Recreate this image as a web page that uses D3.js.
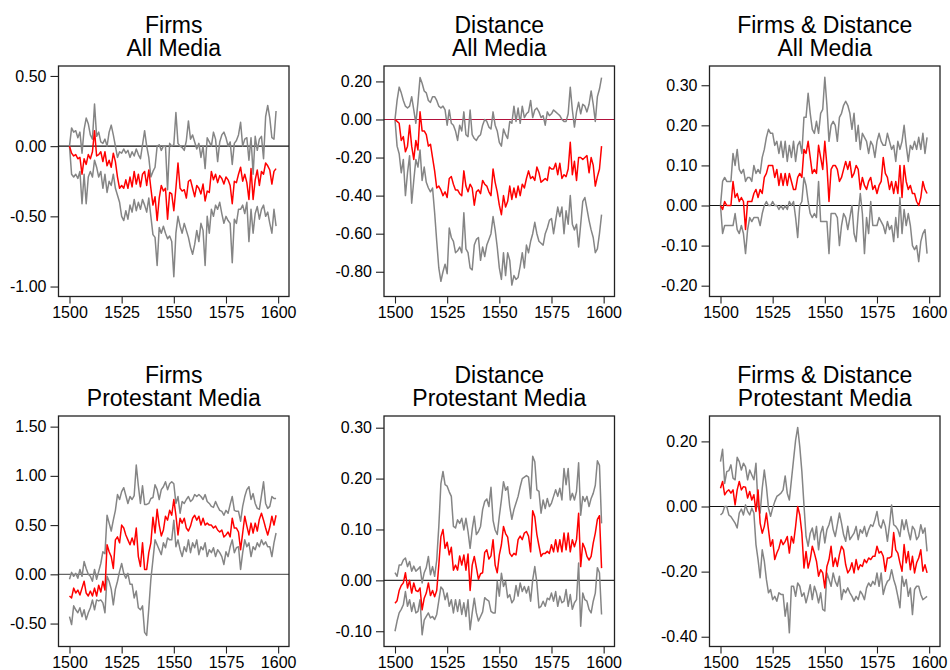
<!DOCTYPE html>
<html lang="en">
<head>
    <meta charset="UTF-8">
    <title>Firms and Distance effects</title>
    <style>
        * {
            margin: 0;
            border: 0;
            box-sizing: border-box;
        }
        body {
            background: #fff;
        }
        #chart {
            width: 950px;
            height: 670px;
        }
        text {
            font-family: "Liberation Sans", Arial, Helvetica, sans-serif;
        }
    </style>
    <script src="https://unpkg.com/d3@7.6.1/dist/d3.min.js"></script>
    <script>
        // years 1500..1599, one value per year
        const xTicks = ["1500", "1525", "1550", "1575", "1600"];

        const yTicksFirmsAll = ["0.50", "0.00", "-0.50", "-1.00"];
        const yTicksDistAll = ["0.20", "0.00", "-0.20", "-0.40", "-0.60", "-0.80"];
        const yTicksBothAll = ["0.30", "0.20", "0.10", "0.00", "-0.10", "-0.20"];
        const yTicksFirmsProt = ["1.50", "1.00", "0.50", "0.00", "-0.50"];
        const yTicksDistProt = ["0.30", "0.20", "0.10", "0.00", "-0.10"];
        const yTicksBothProt = ["0.20", "0.00", "-0.20", "-0.40"];

        // Firms, All Media
        const firmsAllEst = [
            0.00,-0.05,-0.07,-0.06,-0.09,-0.08,-0.20,-0.09,-0.13,-0.06,
            -0.09,-0.04,0.11,-0.07,-0.06,-0.04,-0.11,-0.04,-0.14,-0.10,
            -0.15,-0.05,-0.11,-0.22,-0.30,-0.28,-0.30,-0.24,-0.30,-0.22,
            -0.29,-0.18,-0.27,-0.20,-0.29,-0.20,-0.18,-0.28,-0.17,-0.30,
            -0.42,-0.36,-0.53,-0.37,-0.28,-0.32,-0.30,-0.52,-0.33,-0.34,
            -0.46,-0.30,-0.12,-0.30,-0.32,-0.31,-0.37,-0.25,-0.24,-0.30,
            -0.36,-0.28,-0.30,-0.34,-0.27,-0.39,-0.32,-0.33,-0.18,-0.24,
            -0.20,-0.26,-0.21,-0.23,-0.27,-0.22,-0.24,-0.28,-0.41,-0.25,
            -0.26,-0.20,-0.15,-0.25,-0.20,-0.26,-0.38,-0.16,-0.38,-0.24,
            -0.17,-0.28,-0.18,-0.20,-0.12,-0.14,-0.17,-0.27,-0.18,-0.16
        ];
        const firmsAllHi = [
            0.00,0.13,0.10,0.11,0.06,0.10,-0.05,0.12,0.20,0.16,
            0.08,0.05,0.30,0.07,0.10,0.03,0.02,0.05,0.00,0.10,
            0.15,0.08,0.00,-0.08,-0.04,-0.05,-0.02,-0.05,-0.03,-0.08,
            -0.04,-0.07,-0.02,-0.06,-0.09,0.01,0.11,0.00,-0.08,-0.22,
            -0.18,-0.15,0.00,0.01,-0.03,0.00,0.00,-0.31,0.02,0.00,
            0.01,0.24,0.02,0.00,-0.01,-0.03,0.04,0.18,0.05,0.08,
            0.03,-0.02,0.02,-0.08,0.00,-0.16,0.06,0.03,0.00,0.10,
            0.05,-0.11,0.03,0.08,0.10,0.06,0.00,0.03,-0.13,0.02,
            0.04,0.08,0.17,0.00,0.05,0.06,-0.10,0.06,-0.20,0.07,
            -0.03,0.05,0.07,-0.09,0.21,0.29,0.20,0.06,0.05,0.25
        ];
        const firmsAllLo = [
            0.00,-0.20,-0.22,-0.20,-0.23,-0.18,-0.41,-0.20,-0.41,-0.22,
            -0.18,-0.22,-0.10,-0.15,-0.22,-0.18,-0.30,-0.20,-0.33,-0.25,
            -0.28,-0.20,-0.30,-0.35,-0.40,-0.50,-0.53,-0.46,-0.52,-0.42,
            -0.47,-0.38,-0.46,-0.40,-0.45,-0.38,-0.42,-0.47,-0.37,-0.50,
            -0.63,-0.65,-0.85,-0.58,-0.62,-0.57,-0.62,-0.66,-0.64,-0.68,
            -0.93,-0.62,-0.50,-0.57,-0.62,-0.55,-0.60,-0.65,-0.72,-0.77,
            -0.70,-0.60,-0.68,-0.55,-0.60,-0.85,-0.50,-0.62,-0.45,-0.50,
            -0.42,-0.45,-0.40,-0.48,-0.55,-0.50,-0.53,-0.55,-0.83,-0.52,
            -0.55,-0.45,-0.45,-0.42,-0.48,-0.40,-0.68,-0.45,-0.62,-0.48,
            -0.43,-0.52,-0.45,-0.42,-0.50,-0.47,-0.55,-0.62,-0.45,-0.57
        ];

        // Distance, All Media
        const distAllEst = [
            0.00,-0.01,-0.02,-0.11,-0.09,-0.17,-0.14,-0.03,-0.14,-0.21,
            -0.11,-0.16,0.04,-0.06,-0.06,-0.08,-0.14,-0.13,-0.20,-0.27,
            -0.36,-0.35,-0.37,-0.40,-0.38,-0.41,-0.31,-0.30,-0.34,-0.37,
            -0.37,-0.39,-0.40,-0.27,-0.35,-0.38,-0.34,-0.36,-0.45,-0.38,
            -0.37,-0.39,-0.32,-0.34,-0.35,-0.38,-0.40,-0.26,-0.33,-0.38,
            -0.45,-0.50,-0.40,-0.46,-0.43,-0.35,-0.42,-0.36,-0.41,-0.35,
            -0.40,-0.34,-0.36,-0.31,-0.27,-0.31,-0.30,-0.32,-0.25,-0.28,
            -0.33,-0.32,-0.31,-0.32,-0.25,-0.26,-0.26,-0.23,-0.29,-0.23,
            -0.31,-0.29,-0.30,-0.26,-0.12,-0.29,-0.22,-0.32,-0.20,-0.20,
            -0.21,-0.20,-0.19,-0.28,-0.20,-0.24,-0.35,-0.30,-0.26,-0.14
        ];
        const distAllHi = [
            0.00,0.10,0.17,0.14,0.10,0.07,0.06,0.07,0.12,0.05,
            -0.02,0.09,0.22,0.19,0.15,0.14,0.10,0.09,0.12,0.12,
            0.10,0.07,0.06,0.07,0.05,-0.03,0.05,-0.02,-0.03,-0.06,
            -0.11,-0.03,-0.06,0.04,-0.08,-0.09,0.05,-0.08,-0.10,-0.11,
            -0.09,-0.08,-0.03,0.00,-0.01,-0.04,-0.05,0.04,-0.03,-0.06,
            -0.12,-0.14,-0.05,-0.08,-0.10,-0.01,-0.02,0.07,-0.01,0.06,
            -0.02,0.07,0.01,0.03,0.04,0.10,0.01,0.05,0.06,0.04,
            0.01,0.02,-0.03,0.04,0.02,0.03,0.05,0.04,0.03,0.02,
            0.00,-0.01,-0.01,0.03,0.17,0.05,-0.04,0.04,0.09,0.03,
            0.08,0.07,0.04,0.08,0.15,0.08,-0.01,0.12,0.16,0.22
        ];
        const distAllLo = [
            0.00,-0.14,-0.18,-0.28,-0.21,-0.40,-0.28,-0.19,-0.44,-0.32,
            -0.21,-0.25,-0.16,-0.32,-0.25,-0.33,-0.36,-0.38,-0.36,-0.49,
            -0.64,-0.78,-0.85,-0.80,-0.76,-0.81,-0.57,-0.62,-0.64,-0.70,
            -0.69,-0.67,-0.70,-0.49,-0.68,-0.70,-0.78,-0.79,-0.66,-0.63,
            -0.62,-0.74,-0.67,-0.72,-0.66,-0.63,-0.60,-0.51,-0.58,-0.67,
            -0.78,-0.84,-0.70,-0.82,-0.70,-0.74,-0.87,-0.82,-0.84,-0.83,
            -0.77,-0.70,-0.78,-0.66,-0.70,-0.64,-0.60,-0.54,-0.60,-0.64,
            -0.65,-0.66,-0.60,-0.57,-0.53,-0.52,-0.60,-0.53,-0.46,-0.51,
            -0.46,-0.60,-0.48,-0.55,-0.40,-0.55,-0.58,-0.55,-0.67,-0.55,
            -0.43,-0.41,-0.47,-0.53,-0.58,-0.62,-0.70,-0.68,-0.60,-0.50
        ];

        // Firms & Distance, All Media
        const bothAllEst = [
            0.00,-0.01,0.01,0.00,0.00,0.00,0.06,0.02,0.03,0.01,
            0.02,0.01,-0.06,0.01,0.01,0.01,0.03,0.04,0.02,0.04,
            0.03,0.07,0.08,0.10,0.10,0.10,0.07,0.09,0.05,0.08,
            0.05,0.08,0.05,0.08,0.06,0.04,0.04,0.07,0.08,0.07,
            0.14,0.13,0.16,0.12,0.08,0.09,0.08,0.15,0.12,0.09,
            0.16,0.10,0.01,0.09,0.10,0.10,0.09,0.06,0.07,0.09,
            0.11,0.09,0.11,0.07,0.08,0.10,0.09,0.04,0.07,0.05,
            0.04,0.06,0.07,0.04,0.05,0.03,0.05,0.06,0.12,0.08,
            0.07,0.04,0.06,0.03,0.06,0.03,0.10,0.02,0.10,0.06,
            0.04,0.05,0.03,0.03,0.01,0.00,0.02,0.06,0.04,0.03
        ];
        const bothAllHi = [
            0.00,0.06,0.07,0.06,0.06,0.06,0.13,0.10,0.14,0.09,
            0.08,0.09,0.06,0.07,0.07,0.06,0.10,0.08,0.09,0.08,
            0.12,0.14,0.17,0.19,0.18,0.18,0.15,0.16,0.13,0.16,
            0.12,0.16,0.11,0.15,0.12,0.16,0.11,0.15,0.16,0.13,
            0.22,0.22,0.28,0.23,0.19,0.18,0.21,0.18,0.23,0.24,
            0.32,0.25,0.16,0.20,0.21,0.20,0.16,0.22,0.23,0.25,
            0.26,0.25,0.23,0.19,0.23,0.16,0.20,0.14,0.18,0.17,
            0.16,0.13,0.16,0.15,0.12,0.16,0.18,0.16,0.15,0.15,
            0.18,0.16,0.14,0.15,0.11,0.16,0.14,0.16,0.20,0.15,
            0.11,0.15,0.14,0.16,0.14,0.17,0.14,0.18,0.13,0.17
        ];
        const bothAllLo = [
            0.00,-0.07,-0.05,-0.05,-0.05,-0.05,-0.05,-0.02,-0.06,-0.07,
            -0.05,-0.07,-0.12,-0.06,-0.03,-0.04,-0.03,-0.03,-0.03,-0.05,
            -0.02,0.00,0.01,0.00,0.00,0.01,0.00,0.00,-0.01,0.00,
            -0.01,0.00,-0.01,0.01,0.00,0.01,-0.03,-0.08,0.00,0.01,
            0.07,0.05,0.01,-0.02,-0.03,-0.02,-0.03,0.06,-0.04,-0.04,
            -0.04,-0.04,-0.12,-0.02,-0.02,-0.02,-0.03,-0.10,-0.05,-0.02,
            -0.03,-0.06,-0.03,0.00,-0.07,-0.09,-0.02,0.03,-0.02,-0.12,
            -0.03,-0.07,0.01,-0.05,-0.05,-0.05,-0.03,-0.04,-0.05,-0.07,
            -0.04,-0.06,-0.05,-0.09,-0.03,-0.08,0.02,-0.07,-0.01,-0.05,
            -0.02,-0.05,-0.10,-0.11,-0.10,-0.14,-0.09,-0.07,-0.06,-0.12
        ];

        // Firms, Protestant Media
        const firmsProtEst = [
            -0.22,-0.24,-0.14,-0.19,-0.16,-0.21,-0.14,-0.07,-0.19,-0.22,
            -0.17,-0.22,-0.14,-0.22,-0.11,-0.18,-0.07,-0.16,0.30,0.23,
            0.18,0.06,0.35,0.38,0.32,0.50,0.47,0.40,0.35,0.30,
            0.37,0.30,0.47,0.18,0.08,0.32,0.05,0.05,0.22,0.32,
            0.58,0.42,0.66,0.50,0.39,0.45,0.59,0.55,0.65,0.60,
            0.76,0.60,0.40,0.57,0.52,0.57,0.47,0.44,0.49,0.57,
            0.60,0.55,0.59,0.50,0.57,0.50,0.52,0.50,0.50,0.47,
            0.49,0.45,0.43,0.45,0.38,0.40,0.43,0.38,0.57,0.47,
            0.47,0.43,0.25,0.42,0.59,0.49,0.40,0.52,0.42,0.52,
            0.44,0.56,0.62,0.55,0.47,0.40,0.48,0.59,0.50,0.60
        ];
        const firmsProtHi = [
            -0.05,0.02,-0.02,0.01,-0.04,0.05,-0.02,0.13,0.06,0.00,
            -0.02,-0.07,0.05,-0.05,0.03,0.11,0.23,0.21,0.60,0.52,
            0.44,0.55,0.65,0.81,0.76,0.84,0.88,0.80,0.72,0.79,
            0.76,0.80,1.11,0.90,0.72,0.90,0.71,0.71,0.72,0.77,
            0.78,0.91,0.86,0.76,0.86,0.89,0.94,0.86,0.92,0.94,
            0.92,0.72,0.79,0.62,0.74,0.72,0.76,0.79,0.74,0.76,
            0.81,0.79,0.81,0.79,0.76,0.81,0.74,0.72,0.69,0.68,
            0.74,0.69,0.65,0.64,0.60,0.65,0.62,0.71,0.79,0.65,
            0.64,0.64,0.54,0.69,0.79,0.86,0.89,0.76,0.82,0.72,
            0.67,0.66,0.80,0.94,0.72,0.67,0.69,0.79,0.77,0.77
        ];
        const firmsProtLo = [
            -0.43,-0.51,-0.32,-0.36,-0.39,-0.34,-0.43,-0.36,-0.46,-0.39,
            -0.34,-0.26,-0.36,-0.26,-0.27,-0.26,-0.29,-0.39,-0.02,-0.07,
            -0.15,-0.31,-0.15,-0.07,0.03,0.11,0.01,-0.04,0.01,-0.10,
            -0.10,-0.24,-0.17,-0.34,-0.36,-0.32,-0.59,-0.62,-0.35,-0.05,
            0.15,0.35,0.30,0.25,0.20,0.32,0.27,0.37,0.35,0.35,
            0.55,0.28,0.35,0.25,0.18,0.28,0.23,0.35,0.22,0.32,
            0.27,0.35,0.20,0.28,0.25,0.32,0.18,0.25,0.22,0.27,
            0.18,0.25,0.22,0.18,0.10,0.23,0.18,0.28,0.35,0.22,
            0.27,0.28,0.05,0.22,0.35,0.28,0.32,0.18,0.28,0.25,
            0.32,0.28,0.35,0.30,0.33,0.28,0.28,0.18,0.32,0.42
        ];

        // Distance, Protestant Media
        const distProtEst = [
            -0.045,-0.040,-0.020,-0.010,-0.005,0.015,-0.015,0.000,-0.025,-0.005,
            -0.020,-0.022,-0.015,-0.058,-0.035,-0.025,-0.005,-0.030,-0.020,-0.032,
            -0.020,0.030,0.086,0.100,0.063,0.075,0.050,0.065,0.020,0.030,
            0.020,0.048,0.030,0.050,0.020,0.052,-0.020,0.030,0.047,0.025,
            0.002,0.013,0.015,0.055,0.060,0.042,0.048,0.080,0.030,0.015,
            0.050,0.070,0.106,0.092,0.085,0.053,0.047,0.053,0.050,0.080,
            0.087,0.080,0.093,0.096,0.087,0.056,0.137,0.125,0.090,0.068,
            0.047,0.053,0.053,0.057,0.053,0.070,0.056,0.080,0.056,0.080,
            0.056,0.093,0.060,0.093,0.056,0.080,0.066,0.080,0.132,0.027,
            0.073,0.063,0.047,0.040,0.047,0.073,0.093,0.120,0.127,0.024
        ];
        const distProtHi = [
            0.015,0.008,0.030,0.030,0.040,0.044,0.027,0.037,0.018,0.028,
            0.018,0.022,0.027,-0.005,0.015,0.025,0.047,0.011,0.027,0.008,
            0.040,0.106,0.190,0.214,0.188,0.185,0.174,0.165,0.106,0.103,
            0.119,0.112,0.122,0.099,0.122,0.096,0.063,0.100,0.126,0.090,
            0.096,0.106,0.139,0.155,0.160,0.145,0.183,0.118,0.099,0.090,
            0.126,0.158,0.194,0.177,0.184,0.145,0.120,0.139,0.152,0.165,
            0.184,0.200,0.203,0.206,0.203,0.161,0.244,0.233,0.178,0.175,
            0.132,0.158,0.141,0.161,0.145,0.152,0.165,0.178,0.165,0.181,
            0.158,0.220,0.188,0.220,0.158,0.171,0.158,0.175,0.231,0.128,
            0.165,0.155,0.165,0.145,0.161,0.171,0.187,0.235,0.226,0.112
        ];
        const distProtLo = [
            -0.100,-0.080,-0.064,-0.057,-0.048,-0.022,-0.051,-0.038,-0.061,-0.044,
            -0.064,-0.061,-0.038,-0.107,-0.078,-0.071,-0.064,-0.074,-0.071,-0.077,
            -0.067,-0.040,-0.013,-0.018,-0.038,-0.025,-0.051,-0.038,-0.064,-0.038,
            -0.061,-0.038,-0.067,-0.044,-0.071,-0.038,-0.097,-0.064,-0.035,-0.064,
            -0.080,-0.071,-0.062,-0.034,-0.038,-0.041,-0.061,-0.064,-0.064,-0.002,
            -0.031,0.014,-0.012,-0.002,-0.034,-0.028,-0.044,-0.038,-0.010,-0.031,
            -0.005,-0.022,-0.012,-0.025,-0.012,-0.041,0.001,0.027,-0.005,-0.054,
            -0.051,-0.041,-0.051,-0.035,-0.038,-0.025,-0.041,-0.022,-0.051,-0.031,
            -0.044,-0.041,-0.018,-0.051,-0.028,-0.057,-0.044,-0.038,0.034,-0.090,
            -0.025,-0.038,-0.041,-0.057,-0.064,-0.041,-0.025,0.025,0.015,-0.067
        ];

        // Firms & Distance, Protestant Media
        const bothProtEst = [
            0.056,0.077,0.036,0.046,0.051,0.041,0.051,0.005,0.051,0.077,
            0.051,0.061,0.059,0.026,0.046,0.020,0.036,-0.015,0.051,-0.051,
            -0.082,-0.061,-0.020,-0.071,-0.122,-0.102,-0.163,-0.143,-0.128,-0.102,
            -0.117,-0.107,-0.092,-0.143,-0.092,-0.112,-0.061,0.000,-0.026,-0.082,
            -0.189,-0.138,-0.189,-0.163,-0.122,-0.143,-0.168,-0.214,-0.194,-0.204,
            -0.250,-0.184,-0.163,-0.122,-0.184,-0.158,-0.184,-0.148,-0.122,-0.133,
            -0.179,-0.204,-0.194,-0.173,-0.204,-0.163,-0.194,-0.179,-0.184,-0.163,
            -0.173,-0.158,-0.163,-0.153,-0.153,-0.122,-0.143,-0.138,-0.153,-0.199,
            -0.158,-0.158,-0.153,-0.080,-0.133,-0.143,-0.173,-0.199,-0.117,-0.173,
            -0.138,-0.194,-0.153,-0.204,-0.173,-0.158,-0.133,-0.199,-0.179,-0.204
        ];
        const bothProtHi = [
            0.138,0.176,0.071,0.107,0.110,0.128,0.087,0.082,0.151,0.138,
            0.112,0.133,0.122,0.082,0.112,0.097,0.082,0.133,0.000,-0.020,
            0.056,0.112,0.061,-0.005,-0.030,-0.005,0.015,0.031,0.036,0.041,
            0.051,0.094,0.041,0.020,0.082,0.143,0.204,0.243,0.184,0.107,
            0.005,-0.092,-0.122,-0.082,-0.066,-0.102,-0.061,-0.133,-0.082,-0.061,
            -0.112,-0.071,-0.056,-0.031,-0.071,-0.092,-0.056,-0.020,-0.051,-0.087,
            -0.107,-0.061,-0.102,-0.092,-0.082,-0.061,-0.102,-0.071,-0.082,-0.061,
            -0.092,-0.071,-0.056,-0.061,-0.041,-0.015,-0.056,-0.066,-0.041,-0.061,
            -0.107,-0.056,0.005,-0.056,-0.061,-0.071,-0.092,-0.041,-0.071,-0.041,
            -0.076,-0.102,-0.061,-0.071,-0.102,-0.092,-0.056,-0.082,-0.066,-0.138
        ];
        const bothProtLo = [
            -0.026,-0.020,0.000,0.000,-0.026,-0.031,-0.041,-0.051,-0.066,-0.020,
            -0.008,-0.026,0.005,-0.015,-0.026,-0.005,-0.020,-0.117,-0.163,-0.219,
            -0.133,-0.168,-0.224,-0.265,-0.255,-0.286,-0.276,-0.291,-0.265,-0.270,
            -0.270,-0.337,-0.296,-0.388,-0.245,-0.245,-0.276,-0.235,-0.245,-0.276,
            -0.265,-0.296,-0.270,-0.240,-0.286,-0.245,-0.265,-0.296,-0.265,-0.316,
            -0.321,-0.204,-0.224,-0.245,-0.204,-0.230,-0.245,-0.214,-0.286,-0.255,
            -0.265,-0.250,-0.265,-0.276,-0.291,-0.276,-0.286,-0.260,-0.270,-0.286,
            -0.250,-0.235,-0.245,-0.230,-0.240,-0.204,-0.245,-0.204,-0.270,-0.245,
            -0.230,-0.224,-0.194,-0.224,-0.245,-0.276,-0.311,-0.214,-0.245,-0.224,
            -0.276,-0.250,-0.332,-0.255,-0.245,-0.245,-0.270,-0.286,-0.281,-0.276
        ];
    </script>
</head>
<body>
    <div id="chart"></div>
    <script>
        const years = d3.range(1500, 1600);

        const panels = [
            {title: ["Firms", "All Media"], est: firmsAllEst, hi: firmsAllHi, lo: firmsAllLo, ticks: yTicksFirmsAll, yDomain: [-1.071, 0.571], zero: "#111"},
            {title: ["Distance", "All Media"], est: distAllEst, hi: distAllHi, lo: distAllLo, ticks: yTicksDistAll, yDomain: [-0.930, 0.281], zero: "#b3123c"},
            {title: ["Firms & Distance", "All Media"], est: bothAllEst, hi: bothAllHi, lo: bothAllLo, ticks: yTicksBothAll, yDomain: [-0.227, 0.348], zero: "#111"},
            {title: ["Firms", "Protestant Media"], est: firmsProtEst, hi: firmsProtHi, lo: firmsProtLo, ticks: yTicksFirmsProt, yDomain: [-0.733, 1.608], zero: "#666"},
            {title: ["Distance", "Protestant Media"], est: distProtEst, hi: distProtHi, lo: distProtLo, ticks: yTicksDistProt, yDomain: [-0.130, 0.323], zero: "#333"},
            {title: ["Firms & Distance", "Protestant Media"], est: bothProtEst, hi: bothProtHi, lo: bothProtLo, ticks: yTicksBothProt, yDomain: [-0.430, 0.278], zero: "#111"}
        ];

        const colLeft = [58.5, 384, 709.5];
        const rowTop = [66, 416];
        const boxW = 230.5;
        const boxH = 230.5;
        const xDomain = [1494.73, 1605.2];

        const svg = d3.select("#chart").append("svg")
            .attr("width", 950)
            .attr("height", 670);

        panels.forEach((p, i) => {
            const col = i % 3;
            const row = Math.floor(i / 3);
            const g = svg.append("g")
                .attr("transform", `translate(${colLeft[col]},${rowTop[row]})`);

            const x = d3.scaleLinear(xDomain, [0, boxW]);
            const y = d3.scaleLinear(p.yDomain, [boxH, 0]);
            const line = d3.line()
                .x((d, j) => x(years[j]))
                .y(d => y(d));

            // zero reference
            g.append("line")
                .attr("x1", 0).attr("x2", boxW)
                .attr("y1", y(0)).attr("y2", y(0))
                .attr("stroke", p.zero)
                .attr("stroke-width", 1.1);

            g.selectAll("path.ci")
                .data([p.lo, p.hi])
                .join("path")
                .attr("class", "ci")
                .attr("d", line)
                .attr("fill", "none")
                .attr("stroke", "#858585")
                .attr("stroke-width", 1.5)
                .attr("stroke-linejoin", "round");

            g.append("path")
                .attr("d", line(p.est))
                .attr("fill", "none")
                .attr("stroke", "#ff0000")
                .attr("stroke-width", 1.5)
                .attr("stroke-linejoin", "round");

            g.append("rect")
                .attr("width", boxW)
                .attr("height", boxH)
                .attr("fill", "none")
                .attr("stroke", "#222")
                .attr("stroke-width", 1.3);

            const yAxis = d3.axisLeft(y)
                .tickValues(p.ticks.map(Number))
                .tickFormat((d, k) => p.ticks[k])
                .tickSize(8)
                .tickPadding(4);
            g.append("g")
                .call(yAxis)
                .call(a => a.select(".domain").remove())
                .call(a => a.selectAll(".tick line").attr("stroke", "#222").attr("stroke-width", 1.1))
                .call(a => a.selectAll("text").attr("font-size", 16).attr("fill", "#000")
                    .attr("font-family", "'Liberation Sans', Arial, sans-serif"));

            const xAxis = d3.axisBottom(x)
                .tickValues(xTicks.map(Number))
                .tickFormat((d, k) => xTicks[k])
                .tickSize(7)
                .tickPadding(3);
            g.append("g")
                .attr("transform", `translate(0,${boxH})`)
                .call(xAxis)
                .call(a => a.select(".domain").remove())
                .call(a => a.selectAll(".tick line").attr("stroke", "#222").attr("stroke-width", 1.1))
                .call(a => a.selectAll("text").attr("font-size", 16).attr("fill", "#000")
                    .attr("font-family", "'Liberation Sans', Arial, sans-serif"));

            g.append("text")
                .attr("x", boxW / 2)
                .attr("y", -33)
                .attr("text-anchor", "middle")
                .attr("font-size", 23)
                .selectAll("tspan")
                .data(p.title)
                .join("tspan")
                .attr("x", boxW / 2)
                .attr("dy", (d, k) => k === 0 ? 0 : 23)
                .text(d => d);
        });
    </script>
</body>
</html>
